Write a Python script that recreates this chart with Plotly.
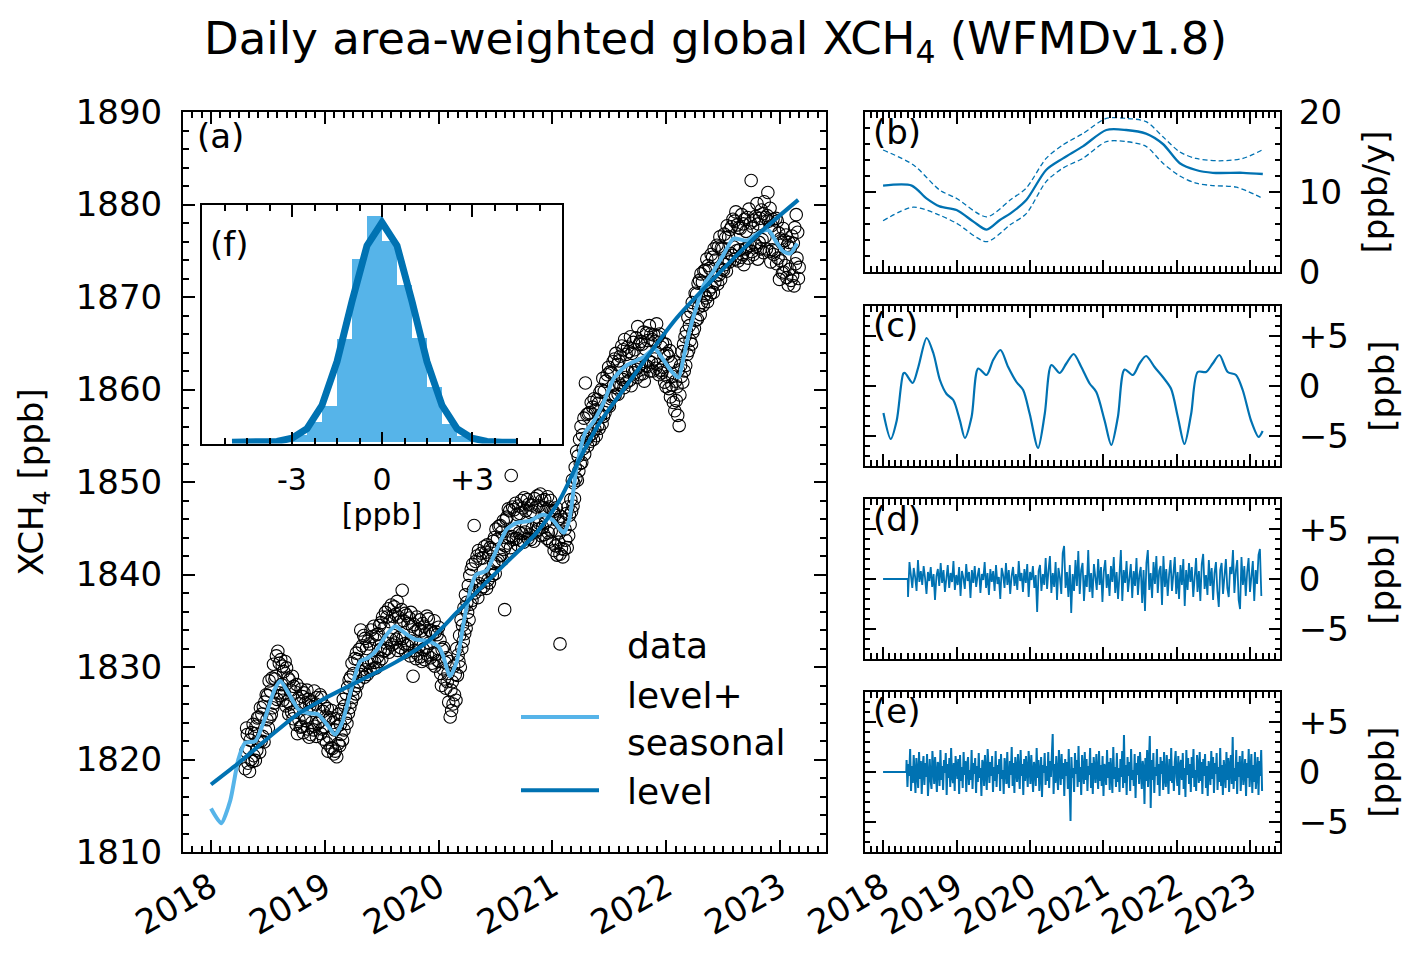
import numpy as np
import plotly.graph_objects as go

W, H = 1424, 959
OFF = 8  # the page places the figure 8 px in from the top-left corner
FONT = "DejaVu Sans"
BLUE = "#0072B2"
SKY = "#56B4E9"

# ---------------- data ----------------
# (a) XCH4 samples every 7/3 days, first sample 2018.30
data_start = 2018.30
data_step_days = 7.0 / 3.0
data_xch4 = [
    1819.0, 1820.9, 1823.4, 1822.7, 1819.6, 1821.2, 1818.7, 1822.1, 1820.0, 1822.9, 1819.8, 1823.8,
    1820.4, 1822.8, 1819.9, 1823.6, 1821.0, 1824.5, 1821.9, 1824.6, 1820.8, 1825.6, 1822.0, 1824.9,
    1822.5, 1825.7, 1821.9, 1826.2, 1823.1, 1827.0, 1824.3, 1826.9, 1823.4, 1828.5, 1824.6, 1827.4,
    1824.9, 1828.8, 1825.6, 1830.3, 1826.1, 1828.7, 1829.0, 1831.2, 1826.5, 1831.7, 1827.2, 1830.4,
    1826.9, 1830.8, 1828.1, 1830.1, 1826.4, 1829.5, 1827.2, 1830.6, 1825.8, 1829.9, 1826.3, 1828.8,
    1824.9, 1828.6, 1826.0, 1827.5, 1825.1, 1829.0, 1824.4, 1827.9, 1825.2, 1827.3, 1823.8, 1828.1,
    1822.8, 1826.6, 1824.3, 1826.0, 1823.5, 1827.6, 1823.6, 1826.8, 1822.9, 1827.2, 1824.5, 1826.1,
    1824.2, 1827.5, 1823.3, 1826.5, 1822.4, 1825.8, 1822.7, 1826.3, 1824.0, 1825.7, 1823.2, 1827.4,
    1823.6, 1826.0, 1822.5, 1826.7, 1823.9, 1825.4, 1824.1, 1827.0, 1822.8, 1826.7, 1823.3, 1825.2,
    1822.2, 1825.8, 1823.5, 1824.7, 1821.8, 1825.5, 1820.9, 1824.3, 1822.4, 1824.5, 1821.3, 1825.3,
    1821.2, 1824.0, 1820.6, 1823.2, 1820.9, 1824.4, 1820.3, 1823.6, 1821.7, 1824.9, 1821.5, 1823.8,
    1822.7, 1825.4, 1822.1, 1826.5, 1823.2, 1825.8, 1824.5, 1827.1, 1823.9, 1827.8, 1825.0, 1828.6,
    1825.6, 1828.9, 1826.2, 1830.4, 1826.7, 1829.3, 1827.6, 1830.9, 1827.1, 1831.5, 1828.0, 1830.8,
    1828.4, 1831.9, 1829.2, 1834.0, 1829.5, 1832.3, 1830.2, 1833.4, 1828.9, 1833.1, 1829.7, 1832.0,
    1829.2, 1832.8, 1830.4, 1832.5, 1829.6, 1834.0, 1830.7, 1833.3, 1829.8, 1834.4, 1830.5, 1833.0,
    1829.9, 1833.5, 1831.1, 1833.6, 1830.6, 1834.5, 1831.9, 1834.8, 1830.9, 1835.4, 1831.7, 1834.2,
    1831.8, 1835.9, 1832.6, 1835.4, 1832.0, 1836.3, 1831.6, 1834.9, 1833.0, 1836.7, 1832.4, 1835.5,
    1833.4, 1836.5, 1832.6, 1835.7, 1833.0, 1837.1, 1831.8, 1835.4, 1833.2, 1834.9, 1832.1, 1836.2,
    1838.3, 1833.1, 1835.0, 1832.5, 1835.8, 1831.6, 1835.6, 1832.3, 1834.7, 1832.5, 1835.3, 1831.2,
    1835.9, 1832.8, 1834.4, 1829.0, 1834.6, 1831.8, 1833.8, 1830.9, 1835.4, 1831.4, 1834.1, 1832.2,
    1835.1, 1831.1, 1833.9, 1830.6, 1834.7, 1831.9, 1834.4, 1830.8, 1833.6, 1832.1, 1835.5, 1831.3,
    1835.2, 1832.6, 1834.0, 1831.0, 1833.9, 1830.4, 1833.6, 1831.5, 1835.0, 1830.1, 1833.8, 1831.4,
    1833.5, 1830.7, 1834.3, 1830.6, 1832.9, 1829.3, 1828.0, 1831.9, 1829.8, 1832.1, 1828.7, 1830.5,
    1827.7, 1831.0, 1828.4, 1829.3, 1826.2, 1830.6, 1824.6, 1827.5, 1825.3, 1828.4, 1826.0, 1830.1,
    1827.0, 1829.2, 1826.4, 1832.0, 1829.1, 1831.3, 1830.6, 1833.4, 1830.0, 1835.1, 1832.0, 1834.5,
    1832.8, 1836.4, 1833.6, 1837.8, 1834.2, 1837.0, 1835.9, 1838.8, 1835.1, 1839.9, 1836.8, 1840.6,
    1837.2, 1841.1, 1838.3, 1845.3, 1838.0, 1841.4, 1838.8, 1842.0, 1837.5, 1842.6, 1839.0, 1841.7,
    1838.4, 1842.3, 1839.6, 1841.8, 1838.7, 1843.0, 1839.7, 1842.4, 1838.5, 1843.2, 1839.4, 1842.1,
    1839.1, 1842.9, 1840.3, 1842.7, 1839.9, 1843.6, 1841.2, 1844.0, 1840.1, 1844.9, 1841.3, 1843.8,
    1841.5, 1845.2, 1842.0, 1845.3, 1842.1, 1844.6, 1841.6, 1845.8, 1842.7, 1836.2, 1843.1, 1846.0,
    1846.2, 1843.4, 1847.1, 1844.0, 1846.9, 1842.9, 1850.7, 1844.1, 1847.3, 1843.8, 1847.0, 1844.7,
    1847.7, 1843.9, 1846.5, 1843.2, 1847.4, 1844.5, 1846.6, 1843.7, 1848.0, 1844.4, 1847.2, 1843.5,
    1848.3, 1844.6, 1846.9, 1845.1, 1848.1, 1843.9, 1847.6, 1844.3, 1846.7, 1843.8, 1847.5, 1845.0,
    1846.8, 1843.6, 1848.2, 1844.6, 1847.3, 1845.4, 1848.5, 1844.9, 1847.4, 1845.5, 1848.7, 1844.2,
    1848.0, 1845.1, 1847.2, 1844.3, 1848.1, 1845.6, 1847.0, 1843.9, 1848.4, 1844.5, 1847.3, 1843.6,
    1848.0, 1844.7, 1846.9, 1843.4, 1846.8, 1842.6, 1846.4, 1843.1, 1847.2, 1842.1, 1845.9, 1843.5,
    1844.5, 1842.2, 1846.3, 1842.8, 1845.6, 1841.9, 1845.9, 1842.7, 1844.9, 1843.7, 1846.6, 1842.9,
    1847.3, 1844.2, 1846.4, 1845.4, 1848.1, 1846.8, 1850.2, 1847.4, 1849.9, 1848.2, 1851.6, 1850.4,
    1853.3, 1850.2, 1852.8, 1851.2, 1854.6, 1852.0, 1856.0, 1852.1, 1855.1, 1853.6, 1856.9, 1853.0,
    1860.7, 1854.6, 1857.3, 1853.9, 1857.4, 1855.0, 1857.5, 1854.4, 1858.6, 1855.2, 1858.1, 1854.6,
    1859.0, 1855.7, 1857.8, 1855.0, 1858.9, 1856.1, 1858.5, 1855.8, 1859.7, 1857.2, 1860.0, 1856.3,
    1861.2, 1857.1, 1859.8, 1857.5, 1860.9, 1858.2, 1861.6, 1858.3, 1862.4, 1858.2, 1861.9, 1859.0,
    1861.8, 1859.2, 1863.0, 1860.5, 1863.3, 1859.4, 1863.9, 1860.2, 1862.7, 1859.5, 1863.1, 1860.6,
    1863.6, 1860.4, 1864.7, 1861.1, 1864.3, 1860.2, 1865.4, 1861.3, 1863.8, 1860.8, 1864.6, 1861.9,
    1864.1, 1861.0, 1865.7, 1860.4, 1863.9, 1862.1, 1865.1, 1861.8, 1864.3, 1862.2, 1865.6, 1861.3,
    1866.8, 1862.4, 1864.9, 1861.6, 1865.2, 1862.8, 1864.9, 1861.7, 1866.2, 1860.9, 1864.4, 1862.6,
    1866.1, 1862.5, 1865.3, 1863.1, 1866.9, 1862.0, 1866.0, 1862.9, 1865.4, 1862.0, 1865.9, 1863.3,
    1865.2, 1862.3, 1867.1, 1862.7, 1865.7, 1861.6, 1866.0, 1862.1, 1864.6, 1861.8, 1865.0, 1862.4,
    1863.7, 1860.8, 1864.9, 1860.3, 1863.9, 1861.4, 1863.6, 1860.1, 1864.2, 1859.2, 1862.9, 1860.5,
    1861.4, 1858.6, 1863.0, 1857.7, 1860.9, 1858.8, 1860.3, 1857.2, 1862.1, 1856.1, 1859.4, 1862.6,
    1861.4, 1864.1, 1860.8, 1864.9, 1862.0, 1865.7, 1862.6, 1866.3, 1863.8, 1867.8, 1864.2, 1866.9,
    1865.3, 1868.4, 1864.9, 1869.4, 1866.2, 1868.8, 1866.6, 1870.4, 1867.5, 1870.3, 1867.6, 1871.5,
    1868.9, 1871.8, 1868.1, 1872.5, 1869.4, 1871.6, 1869.1, 1872.8, 1870.2, 1872.9, 1869.9, 1874.1,
    1869.5, 1873.4, 1870.7, 1873.1, 1870.3, 1874.6, 1871.1, 1874.3, 1870.5, 1875.2, 1871.6, 1874.0,
    1872.3, 1875.6, 1871.4, 1875.4, 1872.4, 1876.5, 1871.9, 1875.3, 1873.0, 1875.2, 1872.9, 1876.8,
    1873.5, 1876.4, 1872.8, 1877.7, 1874.0, 1876.5, 1873.8, 1877.3, 1874.7, 1877.6, 1874.5, 1878.4,
    1875.4, 1878.2, 1874.1, 1879.2, 1875.0, 1877.8, 1873.9, 1877.5, 1875.1, 1877.4, 1874.3, 1878.9,
    1874.6, 1877.9, 1873.5, 1878.4, 1875.2, 1877.1, 1875.3, 1878.6, 1874.2, 1879.5, 1875.6, 1878.0,
    1882.6, 1874.9, 1877.6, 1874.6, 1878.3, 1875.7, 1878.7, 1875.5, 1880.1, 1874.1, 1877.9, 1875.9,
    1878.5, 1875.2, 1879.4, 1876.2, 1879.0, 1874.8, 1880.3, 1876.5, 1878.6, 1875.2, 1878.8, 1881.3,
    1878.2, 1874.9, 1879.6, 1873.8, 1877.7, 1875.1, 1878.4, 1874.6, 1877.2, 1875.0, 1878.5, 1873.6,
    1878.2, 1874.2, 1876.9, 1871.9, 1876.3, 1873.9, 1875.9, 1872.6, 1877.4, 1872.7, 1876.1, 1873.4,
    1876.7, 1872.1, 1875.6, 1871.3, 1875.9, 1873.0, 1875.3, 1871.8, 1876.6, 1872.3, 1875.8, 1871.2,
    1877.5, 1873.6, 1878.9, 1874.2, 1877.0, 1872.0, 1873.2,
]

# (a) level + seasonal
ls_t = [2018.00, 2018.09, 2018.17, 2018.24, 2018.30, 2018.39, 2018.47, 2018.56, 2018.61, 2018.68,
        2018.77, 2018.86, 2018.94, 2019.03, 2019.09, 2019.15, 2019.24, 2019.31, 2019.38, 2019.46,
        2019.53, 2019.62, 2019.70, 2019.79, 2019.91, 2020.00, 2020.04, 2020.10, 2020.16, 2020.22,
        2020.28, 2020.33, 2020.42, 2020.51, 2020.60, 2020.69, 2020.80, 2020.92, 2021.01, 2021.10,
        2021.15, 2021.21, 2021.29, 2021.36, 2021.45, 2021.54, 2021.65, 2021.80, 2021.90, 2021.97,
        2022.05, 2022.11, 2022.15, 2022.21, 2022.27, 2022.33, 2022.41, 2022.50, 2022.59, 2022.71,
        2022.82, 2022.90, 2022.97, 2023.03, 2023.09, 2023.15]
ls_v = [1814.7, 1813.1, 1815.6, 1820.0, 1821.8, 1822.0, 1824.3, 1827.6, 1828.5, 1827.2,
        1825.4, 1825.0, 1824.9, 1823.6, 1822.7, 1823.9, 1827.9, 1830.6, 1831.0, 1831.9,
        1833.3, 1834.4, 1833.7, 1833.0, 1832.8, 1832.2, 1831.2, 1829.0, 1830.6, 1834.8,
        1838.4, 1840.0, 1840.4, 1842.7, 1844.9, 1845.6, 1845.8, 1846.5, 1845.8, 1844.5,
        1846.0, 1851.4, 1855.4, 1856.5, 1858.6, 1861.2, 1862.6, 1863.5, 1864.4, 1863.3,
        1861.9, 1861.3, 1863.3, 1866.6, 1869.1, 1871.3, 1872.7, 1874.5, 1876.3, 1876.1,
        1877.0, 1877.2, 1875.9, 1874.9, 1874.7, 1875.8]

# (a) level
lvl_t = [2018.00, 2018.24, 2018.50, 2018.74, 2019.03, 2019.32, 2019.62, 2019.91, 2020.16, 2020.39,
         2020.63, 2020.86, 2021.07, 2021.24, 2021.42, 2021.65, 2022.09, 2022.53, 2022.82, 2023.16]
lvl_v = [1817.3, 1819.6, 1822.3, 1824.7, 1826.8, 1828.6, 1830.5, 1832.8, 1835.9, 1838.8,
         1841.7, 1844.5, 1848.2, 1852.5, 1856.5, 1860.4, 1867.7, 1873.4, 1876.9, 1880.5]

# (b) growth rate [ppb/y]
gr_t = [2018.00, 2018.39, 2018.59, 2018.77, 2019.00, 2019.23, 2019.41, 2019.59, 2019.73, 2019.95,
        2020.22, 2020.45, 2020.72, 2021.04, 2021.31, 2021.58, 2021.81, 2022.04, 2022.26, 2022.49,
        2022.90, 2023.17]
gr_v = [10.8, 10.8, 9.2, 8.2, 7.75, 6.3, 5.3, 6.5, 7.3, 9.0,
        12.75, 14.2, 15.7, 17.75, 17.75, 17.3, 16.0, 13.6, 12.75, 12.4,
        12.4, 12.25]
gr_hi_t = [2018.00, 2018.41, 2018.77, 2019.00, 2019.41, 2019.73, 2019.95, 2020.22, 2020.45, 2020.72,
           2021.04, 2021.31, 2021.58, 2021.81, 2022.04, 2022.26, 2022.58, 2022.90, 2023.17]
gr_hi_v = [15.25, 13.4, 10.25, 9.2, 6.9, 9.0, 10.5, 14.2, 15.9, 17.3,
           19.2, 19.2, 18.8, 16.9, 15.0, 14.2, 13.9, 14.2, 15.3]
gr_lo_t = [2018.00, 2018.41, 2018.77, 2019.00, 2019.41, 2019.73, 2019.95, 2020.22, 2020.45, 2020.72,
           2021.04, 2021.31, 2021.58, 2021.81, 2022.04, 2022.26, 2022.49, 2022.81, 2023.17]
gr_lo_v = [6.4, 8.1, 7.1, 6.1, 3.8, 5.9, 7.3, 11.3, 13.0, 14.2,
           16.3, 16.3, 15.7, 13.6, 12.0, 11.1, 10.8, 10.6, 9.2]

# (c) seasonal component [ppb]
sea_t = [2018.005, 2018.104, 2018.186, 2018.276, 2018.299, 2018.403, 2018.480, 2018.593, 2018.684, 2018.774,
         2018.865, 2018.956, 2019.046, 2019.114, 2019.205, 2019.295, 2019.409, 2019.499, 2019.599, 2019.703,
         2019.816, 2019.907, 2019.997, 2020.110, 2020.201, 2020.292, 2020.405, 2020.495, 2020.595, 2020.699,
         2020.812, 2020.903, 2021.016, 2021.107, 2021.197, 2021.288, 2021.401, 2021.492, 2021.582, 2021.696,
         2021.809, 2021.922, 2022.013, 2022.103, 2022.194, 2022.284, 2022.398, 2022.488, 2022.579, 2022.692,
         2022.805, 2022.896, 2023.009, 2023.113, 2023.168]
sea_v = [-2.7, -5.3, -3.45, 1.25, 1.3, 0.3, 1.9, 4.8, 3.3, 0.6,
         -0.8, -1.4, -3.45, -5.2, -3.1, 1.75, 1.1, 2.6, 3.6, 1.9,
         0.4, -0.4, -2.8, -6.2, -2.8, 2.1, 1.3, 2.25, 3.2, 1.9,
         0.25, -0.6, -3.45, -5.9, -3.1, 1.65, 1.1, 2.25, 3.0, 1.9,
         0.9, -0.3, -3.1, -5.8, -2.8, 1.4, 1.4, 2.25, 3.1, 1.4,
         1.1, -0.4, -3.45, -5.1, -4.5]

# (d) irregular component [ppb], sampled evenly from 2018.34 to 2023.15
irr_start, irr_end = 2018.34, 2023.15
irr_v = [
    -1.8, 1.7, 0.4, -0.9, 1.1, 0.2, -1.2, 1.9, -0.3, 0.8,
    -0.6, 1.3, 0.1, -1.5, 0.7, -0.2, 1.2, -0.8, 0.5, -2.1,
    0.3, 1.0, -0.7, 1.6, -0.4, 0.9, -1.3, 0.2, 1.4, -0.9,
    0.6, -0.3, 1.8, -1.1, 0.4, -0.6, 1.2, -1.7, 0.8, 0.1,
    -1.0, 1.5, -0.2, 0.7, -1.9, 0.9, -0.4, 1.3, -0.8, 0.3,
    1.1, -1.4, 0.5, -0.1, 1.7, -0.9, 0.6, -1.6, 1.0, -0.3,
    0.8, -1.2, 1.4, -0.5, 0.2, -2.0, 1.1, 0.4, -0.9, 1.6,
    -0.6, 0.9, -1.5, 0.3, 1.2, -0.7, 0.5, -1.1, 1.8, -0.2,
    0.6, -1.3, 1.0, -0.4, 1.5, -1.8, 0.7, -0.1, 1.3, -0.9,
    0.4, -3.3, 0.8, 1.4, -1.2, 0.5, -0.6, 2.1, -1.0, 0.9,
    2.3, -1.4, 0.6, -0.8, 1.7, -2.1, 1.1, 0.2, -1.5, 2.6,
    3.3, -0.9, 0.7, -1.8, 1.4, -3.4, 0.5, -1.2, 1.9, -0.7,
    2.8, -1.5, 0.9, 1.6, -2.2, 0.4, -0.8, 2.9, -1.3, 0.6,
    -1.9, 1.5, 0.2, -1.1, 2.0, -0.6, 1.2, -2.3, 0.8, 1.9,
    -0.9, 0.5, -1.7, 1.3, -0.3, 2.2, -1.4, 0.7, -2.0, 1.1,
    2.9, -2.2, 0.9, -0.4, 1.8, -1.3, 0.3, 1.5, -1.9, 0.8,
    -0.7, 2.1, -1.6, 0.4, 1.2, -2.4, 0.9, -3.2, 1.6, 2.9,
    -1.1, 0.6, -1.9, 1.7, -0.5, 2.3, -1.4, 0.8, 1.3, -2.6,
    2.3, -0.8, 1.0, -1.7, 0.5, 1.9, -1.2, 0.3, 2.2, -1.5,
    0.7, -2.0, 1.4, -0.6, 2.0, -2.7, 0.9, -1.1, 1.6, -0.3,
    1.2, -1.8, 0.5, 2.1, -1.3, 0.8, -2.2, 1.5, 2.5, -1.0,
    0.4, -1.6, 1.9, -0.7, 1.1, -2.1, 0.6, 1.7, -1.2, -2.8,
    0.9, 1.6, -1.5, 0.3, 2.0, -0.9, -1.8, 1.2, 0.5, 2.9,
    -1.4, 0.8, 1.9, -2.1, -3.0, 2.2, -0.6, 1.3, -1.7, 0.7,
    2.1, -1.3, 0.4, 1.8, -2.2, 0.9, -0.5, 2.4, 3.0, -1.7,
]

# (e) residuals [ppb], sampled evenly from 2018.32 to 2023.16
res_start, res_end = 2018.32, 2023.16
res_v = [
    1.2, -1.5, 0.8, -0.4, 2.3, -1.9, 0.6, -1.1, 1.7, -0.2, -2.1, 1.4, 0.3, -1.6, 2.0, -0.7, 1.1, -2.2, 0.5, 1.6,
    -1.3, 0.9, -0.5, 1.8, -2.4, 0.2, 1.3, -0.9, -1.7, 2.1, 0.4, -1.2, 1.5, -0.3, -2.0, 1.0, 0.7, -1.4, 2.2, -0.8,
    0.6, -1.8, 1.2, -0.1, 1.9, -2.3, 0.8, -0.6, 1.4, -1.5, 2.4, -0.4, -1.1, 0.9, -1.9, 1.6, 0.1, -0.7, 1.3, -2.2,
    1.7, -0.9, 0.5, -1.6, 2.0, -0.3, 1.1, -2.0, 0.7, 1.5, -1.3, 0.2, -0.8, 2.2, -1.7, 0.9, -0.2, 1.4, -2.1, 0.6,
    -1.0, 1.9, -0.6, 0.4, -2.4, 1.2, 0.8, -1.4, 1.7, -0.5, -1.8, 2.3, 0.3, -1.1, 1.0, -0.4, 1.6, -2.0, 0.5, -0.9,
    2.1, -1.5, 0.7, -0.2, 1.3, -1.9, 1.8, -0.7, 0.2, -2.2, 1.4, 0.6, -1.2, 2.0, -0.8, -1.6, 1.1, -0.3, 2.5, -1.4,
    0.9, -2.1, 1.5, 0.1, -1.0, 1.8, -0.6, -1.7, 2.2, -0.4, 0.8, -2.3, 1.3, -0.9, 1.6, -0.2, -1.5, 2.1, 0.5, -1.2,
    1.7, -0.8, -2.0, 1.0, 0.4, -1.4, 2.4, -0.6, 1.2, -1.9, 0.3, 1.5, -2.5, 0.7, -0.1, 1.9, -1.3, 0.6, -0.9, 2.0,
    -1.6, 1.1, -0.5, 1.4, 3.8, -2.2, 0.8, -1.1, 1.6, -0.3, -1.8, 2.2, 0.2, -1.3, 1.8, -0.7, 0.9, -2.4, 1.3, -0.4,
    1.0, -1.7, 2.3, -0.9, -4.9, 1.5, -0.6, 0.4, -2.0, 1.9, -0.2, 1.2, -1.5, 2.6, -1.0, 0.5, -2.3, 1.7, 0.1, -1.2,
    2.0, -0.8, 1.3, -1.9, 0.6, -0.3, 2.4, -1.6, 0.9, -2.2, 1.5, 0.2, -1.1, 1.8, -0.5, -1.7, 2.1, -0.9, 0.7, -1.4,
    1.6, -2.4, 0.8, 0.3, -1.3, 2.2, -0.6, 1.0, -1.8, 1.4, -0.2, -2.1, 2.5, -0.7, 0.5, -1.5, 1.9, -1.0, 0.4, -2.0,
    1.3, -0.5, 2.1, -1.6, 3.7, -1.1, 0.7, -2.3, 1.5, -0.4, 1.0, -1.9, 2.3, -0.8, 0.2, -1.4, 1.8, -2.6, 0.9, -0.3,
    1.6, -1.2, 2.0, -0.6, -1.7, 1.1, 0.4, -3.2, 1.4, -0.9, 2.2, -1.5, 0.6, 3.6, -3.6, 1.2, -0.8, 1.9, -2.1, 0.5,
    -0.4, 2.3, -1.3, 0.8, -2.4, 1.5, -0.2, 1.1, -1.8, 2.0, -0.7, -1.5, 1.7, 0.3, -2.2, 1.3, -0.9, 2.4, -1.1, 0.6,
    -1.9, 1.0, 2.1, -0.5, -1.4, 1.6, -2.3, 0.7, 1.2, -0.8, 1.9, -1.7, 0.4, -2.5, 2.2, -0.3, 1.4, -1.2, 0.8, -2.0,
    1.5, -0.6, 2.3, -1.5, 0.2, -1.9, 1.7, 0.5, -1.1, 2.0, -0.9, 1.0, -2.2, 1.3, -0.4, 1.8, -1.6, 0.6, -2.4, 1.1,
    0.3, -1.3, 2.1, -0.7, 1.5, -2.1, 0.9, -0.2, 1.9, -1.8, 0.5, -1.0, 2.4, -1.4, 0.7, -2.3, 1.2, 0.1, -1.6, 2.0,
    -0.8, 1.4, -2.0, 0.6, 1.7, -1.2, 3.5, -1.7, 0.4, -0.9, 2.2, -2.2, 1.0, -0.5, 1.6, -1.9, 0.8, 2.1, -1.3, -0.3,
    1.3, -2.4, 0.9, -0.6, 2.3, -1.5, 0.2, 1.8, -2.1, 0.7, -1.0, 2.0, -1.7, 0.5, 1.5, -2.3, 1.1, -0.4, 2.2, -1.9,
]

# (f) histogram of residuals (density) and fitted normal curve
hist_centers = [-3.75, -3.25, -2.75, -2.25, -1.75, -1.25, -0.75, -0.25,
                0.25, 0.75, 1.25, 1.75, 2.25, 2.75, 3.25, 3.75]
hist_density = [0.001, 0.004, 0.012, 0.034, 0.063, 0.177, 0.313, 0.388,
                0.344, 0.270, 0.179, 0.095, 0.031, 0.011, 0.004, 0.001]
fit_x = [-5.0, -4.5, -4.0, -3.5, -3.0, -2.5, -2.0, -1.5, -1.0, -0.5,
         0.0, 0.5, 1.0, 1.5, 2.0, 2.5, 3.0, 3.5, 4.0, 4.5]
fit_y = [0.0, 0.0001, 0.0003, 0.0016, 0.0069, 0.0233, 0.0634, 0.138, 0.241, 0.3365,
         0.376, 0.3365, 0.241, 0.138, 0.0634, 0.0233, 0.0069, 0.0016, 0.0003, 0.0001]

# ---------------- derived sample positions ----------------
data_t = data_start + np.arange(len(data_xch4)) * data_step_days / 365.25
irr_t = np.concatenate([[2018.0, irr_start - 0.004], np.linspace(irr_start, irr_end, len(irr_v))])
irr_y = [0.0, 0.0] + irr_v
res_t = np.concatenate([[2018.0, res_start - 0.004], np.linspace(res_start, res_end, len(res_v))])
res_y = [0.0, 0.0] + res_v


def fx(p):
    return (p - OFF) / W


def fy(p):
    return 1 - (p - OFF) / H


def dx(a, b):
    return [fx(a), fx(b)]


def dy(top, bottom):
    return [fy(bottom), fy(top)]


NB = "\u00a0\u00a0"

fig = go.Figure()

# (a)
fig.add_trace(go.Scatter(x=data_t, y=data_xch4, mode="markers", name=NB + "data",
                         marker=dict(symbol="circle-open", size=12.5, color="black", line=dict(width=1.1)),
                         xaxis="x", yaxis="y"))
fig.add_trace(go.Scatter(x=ls_t, y=ls_v, mode="lines", name=NB + "level+<br>" + NB + "seasonal",
                         line=dict(color=SKY, width=4, shape="spline", smoothing=0.6),
                         xaxis="x", yaxis="y"))
fig.add_trace(go.Scatter(x=lvl_t, y=lvl_v, mode="lines", name=NB + "level",
                         line=dict(color=BLUE, width=4, shape="spline", smoothing=0.8),
                         xaxis="x", yaxis="y"))

# (f)
fig.add_trace(go.Bar(x=hist_centers, y=hist_density, width=0.5, showlegend=False,
                     marker=dict(color=SKY, line=dict(width=0)), xaxis="x2", yaxis="y2"))
fig.add_trace(go.Scatter(x=fit_x, y=fit_y, mode="lines", showlegend=False,
                         line=dict(color=BLUE, width=7), xaxis="x2", yaxis="y2"))

# (b)
for tt, vv, w, dash in [(gr_hi_t, gr_hi_v, 1.3, "5px,3px"), (gr_t, gr_v, 2.3, "solid"),
                        (gr_lo_t, gr_lo_v, 1.3, "5px,3px")]:
    fig.add_trace(go.Scatter(x=tt, y=vv, mode="lines", showlegend=False,
                             line=dict(color=BLUE, width=w, dash=dash, shape="spline", smoothing=0.8),
                             xaxis="x3", yaxis="y3"))
# (c)
fig.add_trace(go.Scatter(x=sea_t, y=sea_v, mode="lines", showlegend=False,
                         line=dict(color=BLUE, width=2.2, shape="spline", smoothing=0.8),
                         xaxis="x4", yaxis="y4"))
# (d)
fig.add_trace(go.Scatter(x=irr_t, y=irr_y, mode="lines", showlegend=False,
                         line=dict(color=BLUE, width=1.8), xaxis="x5", yaxis="y5"))
# (e)
fig.add_trace(go.Scatter(x=res_t, y=res_y, mode="lines", showlegend=False,
                         line=dict(color=BLUE, width=2.0), xaxis="x6", yaxis="y6"))

XR = [2017.754, 2023.404]
common = dict(showgrid=False, zeroline=False, showline=True, linewidth=2, linecolor="black",
              mirror="ticks", ticks="inside", tickcolor="black", tickwidth=2,
              tickfont=dict(size=34, color="black"))


def time_axis(domain, anchor, labels):
    return dict(common, domain=domain, anchor=anchor, range=XR, tickmode="linear", tick0=2018, dtick=1,
                tickformat="d", ticklen=12, tickangle=-30, showticklabels=labels,
                minor=dict(ticks="inside", ticklen=6, tickwidth=1.5, tickcolor="black",
                           tickmode="linear", tick0=2018, dtick=1 / 12))


def comp_axis(domain, anchor, title):
    return dict(common, domain=domain, anchor=anchor, side="right", range=[-8, 8],
                tickmode="linear", tick0=0, dtick=5, ticklen=11, labelalias={"5": "+5"},
                ticklabelstandoff=10,
                minor=dict(ticks="inside", ticklen=5, tickwidth=1.5, tickcolor="black",
                           tickmode="linear", tick0=0, dtick=1),
                title=dict(text=title, font=dict(size=34, color="black"), standoff=22))


main_x = dx(183, 826)
right_x = dx(865, 1280)

fig.update_layout(
    width=W, height=H, margin=dict(l=0, r=0, t=0, b=0, autoexpand=False),
    paper_bgcolor="white", plot_bgcolor="white",
    font=dict(family=FONT, color="black"),
    title=dict(text="Daily area-weighted global XCH<sub>4</sub> (WFMDv1.8)", x=fx(715.5), xanchor="center",
               y=fy(38), yanchor="middle", font=dict(size=45, color="black")),
    bargap=0,
    showlegend=True,
    legend=dict(x=fx(516), y=fy(614), xanchor="left", yanchor="top", font=dict(size=36, color="black"),
                itemwidth=78, bgcolor="rgba(0,0,0,0)", tracegroupgap=0, traceorder="normal"),
    xaxis=time_axis(main_x, "y", True),
    yaxis=dict(common, domain=dy(112, 852), anchor="x", range=[1810, 1890], tickmode="linear", tick0=1810,
               dtick=10, ticklen=12, ticklabelstandoff=12,
               minor=dict(ticks="inside", ticklen=6, tickwidth=1.5, tickcolor="black",
                          tickmode="linear", tick0=1810, dtick=2),
               title=dict(text="XCH<sub>4</sub> [ppb]", font=dict(size=34, color="black"), standoff=22)),
    xaxis2=dict(common, domain=dx(202, 562), anchor="y2", range=[-6, 6], tickmode="array",
                tickvals=[-3, 0, 3], ticktext=["-3", "0", "+3"], ticklen=12,
                tickfont=dict(size=30, color="black"), ticklabelstandoff=8,
                minor=dict(ticks="inside", ticklen=6, tickwidth=1.5, tickcolor="black",
                           tickmode="linear", tick0=0, dtick=0.75),
                title=dict(text="[ppb]", font=dict(size=30, color="black"), standoff=4)),
    yaxis2=dict(showgrid=False, zeroline=False, showline=True, linewidth=2, linecolor="black",
                mirror=True, ticks="", showticklabels=False, domain=dy(205, 443.5), anchor="x2",
                range=[-0.002, 0.406]),
    xaxis3=time_axis(right_x, "y3", False),
    yaxis3=dict(common, domain=dy(112, 272), anchor="x3", side="right", range=[0, 20],
                tickmode="linear", tick0=0, dtick=10, ticklen=11, ticklabelstandoff=10,
                minor=dict(ticks="inside", ticklen=5, tickwidth=1.5, tickcolor="black",
                           tickmode="linear", tick0=0, dtick=2),
                title=dict(text="[ppb/y]", font=dict(size=34, color="black"), standoff=22)),
    xaxis4=time_axis(right_x, "y4", False),
    yaxis4=comp_axis(dy(306, 466), "x4", "[ppb]"),
    xaxis5=time_axis(right_x, "y5", False),
    yaxis5=comp_axis(dy(499, 659), "x5", "[ppb]"),
    xaxis6=time_axis(right_x, "y6", True),
    yaxis6=comp_axis(dy(692, 852), "x6", "[ppb]"),
)

labels = [("(a)", 195, 114), ("(f)", 208, 222), ("(b)", 871, 110), ("(c)", 871, 303),
          ("(d)", 871, 497), ("(e)", 871, 689)]
for txt, px, py in labels:
    fig.add_annotation(text=txt, x=fx(px), y=fy(py), xref="paper", yref="paper",
                       xanchor="left", yanchor="top", showarrow=False,
                       font=dict(size=34, color="black"))

fig.write_html("out.html")
